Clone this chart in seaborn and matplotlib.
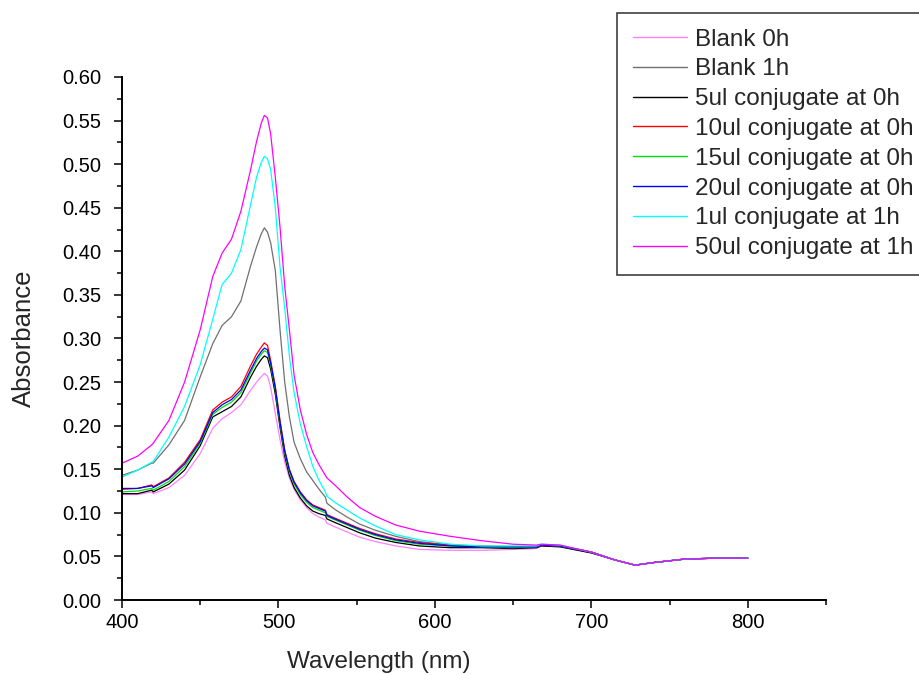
import matplotlib
matplotlib.use("Agg")
import matplotlib.pyplot as plt
from matplotlib.ticker import MultipleLocator, FormatStrFormatter
import pandas as pd
import seaborn as sns

# Wavelength grid (nm) shared by all spectra
wavelength = [400, 410, 419, 420, 430, 440, 450, 458, 464, 470, 476, 482, 486, 489,
              491, 493, 495, 498, 501, 504, 507, 510, 514, 518, 522, 526, 530, 531,
              536, 544, 552, 562, 575, 590, 610, 630, 650, 665, 668, 680, 700, 715,
              728, 740, 760, 780, 800]

tail = [0.046, 0.040, 0.043, 0.047, 0.048, 0.048]

blank_0h = [0.121, 0.121, 0.124, 0.122, 0.129, 0.143, 0.168, 0.197, 0.208, 0.215,
            0.224, 0.240, 0.250, 0.256, 0.260, 0.257, 0.244, 0.214, 0.184, 0.158,
            0.140, 0.127, 0.115, 0.106, 0.099, 0.095, 0.092, 0.088, 0.084, 0.078,
            0.072, 0.067, 0.062, 0.058, 0.057, 0.057, 0.058, 0.059, 0.062, 0.061,
            0.054] + tail

blank_1h = [0.143, 0.149, 0.157, 0.157, 0.178, 0.206, 0.256, 0.294, 0.315, 0.325,
            0.343, 0.382, 0.405, 0.420, 0.427, 0.422, 0.410, 0.378, 0.310, 0.250,
            0.210, 0.181, 0.162, 0.147, 0.137, 0.127, 0.118, 0.111, 0.104, 0.095,
            0.087, 0.080, 0.073, 0.067, 0.063, 0.061, 0.061, 0.061, 0.063, 0.062,
            0.055] + tail

ul5_0h = [0.122, 0.122, 0.126, 0.124, 0.133, 0.149, 0.177, 0.210, 0.216, 0.222,
          0.233, 0.255, 0.268, 0.276, 0.280, 0.278, 0.265, 0.236, 0.198, 0.165,
          0.143, 0.129, 0.117, 0.108, 0.102, 0.099, 0.097, 0.093, 0.089, 0.083,
          0.077, 0.071, 0.066, 0.062, 0.060, 0.060, 0.059, 0.060, 0.062, 0.061,
          0.054] + tail

ul10_0h = [0.127, 0.128, 0.132, 0.130, 0.140, 0.158, 0.184, 0.218, 0.227, 0.233,
           0.245, 0.268, 0.282, 0.290, 0.295, 0.292, 0.275, 0.245, 0.206, 0.172,
           0.150, 0.136, 0.124, 0.115, 0.109, 0.106, 0.103, 0.098, 0.094, 0.088,
           0.082, 0.076, 0.070, 0.066, 0.063, 0.062, 0.061, 0.061, 0.063, 0.062,
           0.055] + tail

ul15_0h = [0.124, 0.125, 0.128, 0.126, 0.136, 0.153, 0.180, 0.213, 0.221, 0.227,
           0.238, 0.260, 0.274, 0.282, 0.286, 0.284, 0.270, 0.241, 0.202, 0.169,
           0.147, 0.133, 0.121, 0.112, 0.106, 0.103, 0.100, 0.096, 0.092, 0.086,
           0.080, 0.074, 0.068, 0.064, 0.062, 0.061, 0.060, 0.061, 0.063, 0.062,
           0.055] + tail

ul20_0h = [0.128, 0.128, 0.131, 0.129, 0.139, 0.156, 0.182, 0.215, 0.224, 0.230,
           0.241, 0.263, 0.277, 0.285, 0.289, 0.287, 0.272, 0.243, 0.204, 0.171,
           0.149, 0.135, 0.123, 0.114, 0.108, 0.105, 0.102, 0.097, 0.093, 0.087,
           0.081, 0.075, 0.069, 0.065, 0.062, 0.061, 0.061, 0.061, 0.063, 0.062,
           0.055] + tail

ul1_1h = [0.141, 0.149, 0.158, 0.159, 0.187, 0.222, 0.270, 0.322, 0.362, 0.375,
          0.402, 0.452, 0.485, 0.502, 0.509, 0.506, 0.494, 0.450, 0.382, 0.335,
          0.280, 0.238, 0.202, 0.176, 0.153, 0.137, 0.124, 0.119, 0.112, 0.103,
          0.094, 0.085, 0.075, 0.069, 0.064, 0.062, 0.062, 0.062, 0.064, 0.063,
          0.055] + tail

ul50_1h = [0.157, 0.165, 0.178, 0.180, 0.206, 0.250, 0.310, 0.371, 0.398, 0.414,
           0.446, 0.492, 0.526, 0.547, 0.556, 0.553, 0.535, 0.485, 0.428, 0.360,
           0.310, 0.258, 0.218, 0.190, 0.169, 0.155, 0.143, 0.140, 0.132, 0.118,
           0.106, 0.096, 0.086, 0.079, 0.073, 0.068, 0.064, 0.063, 0.064, 0.063,
           0.055] + tail

labels = ["Blank 0h", "Blank 1h", "5ul conjugate at 0h", "10ul conjugate at 0h",
          "15ul conjugate at 0h", "20ul conjugate at 0h", "1ul conjugate at 1h",
          "50ul conjugate at 1h"]
series = [blank_0h, blank_1h, ul5_0h, ul10_0h, ul15_0h, ul20_0h, ul1_1h, ul50_1h]
colors = ["#FF80FF", "#707070", "#000000", "#FF0000", "#00E000", "#0000FF",
          "#00FFFF", "#FF00FF"]

df = pd.concat(
    [pd.DataFrame({"Wavelength": wavelength, "Absorbance": vals, "Sample": name})
     for name, vals in zip(labels, series)],
    ignore_index=True,
)

sns.set_style("ticks")
plt.rcParams["font.family"] = ["Liberation Sans", "DejaVu Sans"]

fig = plt.figure(figsize=(9.19, 6.75), dpi=100)
ax = fig.add_axes([122 / 919, 1 - 600 / 675, 704 / 919, 523 / 675])

sns.lineplot(data=df, x="Wavelength", y="Absorbance", hue="Sample",
             hue_order=labels, palette=dict(zip(labels, colors)),
             sort=False, estimator=None, linewidth=0.9, ax=ax)

ax.set_xlim(400, 850)
ax.set_ylim(0, 0.60)
ax.set_xticks([400, 500, 600, 700, 800])
ax.xaxis.set_minor_locator(MultipleLocator(50))
ax.yaxis.set_major_locator(MultipleLocator(0.05))
ax.yaxis.set_minor_locator(MultipleLocator(0.025))
ax.yaxis.set_major_formatter(FormatStrFormatter("%.2f"))

ax.tick_params(which="major", direction="out", length=6, width=1.1,
               labelsize=14.5, color="black", labelcolor="black")
ax.tick_params(axis="y", which="major", pad=9)
ax.tick_params(axis="x", which="major", pad=3)
ax.tick_params(which="minor", direction="out", length=3.5, width=1.1, color="black")

for side in ("top", "right"):
    ax.spines[side].set_visible(False)
for side in ("left", "bottom"):
    ax.spines[side].set_linewidth(1.4)
    ax.spines[side].set_color("black")

ax.set_xlabel("Wavelength (nm)", fontsize=17.5)
ax.set_ylabel("Absorbance", fontsize=18.5)
ax.xaxis.set_label_coords(0.364, -0.098)
ax.yaxis.set_label_coords(-0.122, 0.5)

sns.move_legend(ax, loc="upper left", bbox_to_anchor=(617 / 919, 1 - 13 / 675),
                bbox_transform=fig.transFigure, title=None, fontsize=17.5,
                frameon=True, fancybox=False, shadow=False, framealpha=1,
                edgecolor="#404040", borderpad=0.64, labelspacing=0.32,
                handlelength=2.25, handletextpad=0.3, borderaxespad=0)
leg = ax.get_legend()
leg.get_frame().set_linewidth(1.2)
for line in leg.get_lines():
    line.set_linewidth(1.0)

fig.savefig("out.png", dpi=100, facecolor="white")
